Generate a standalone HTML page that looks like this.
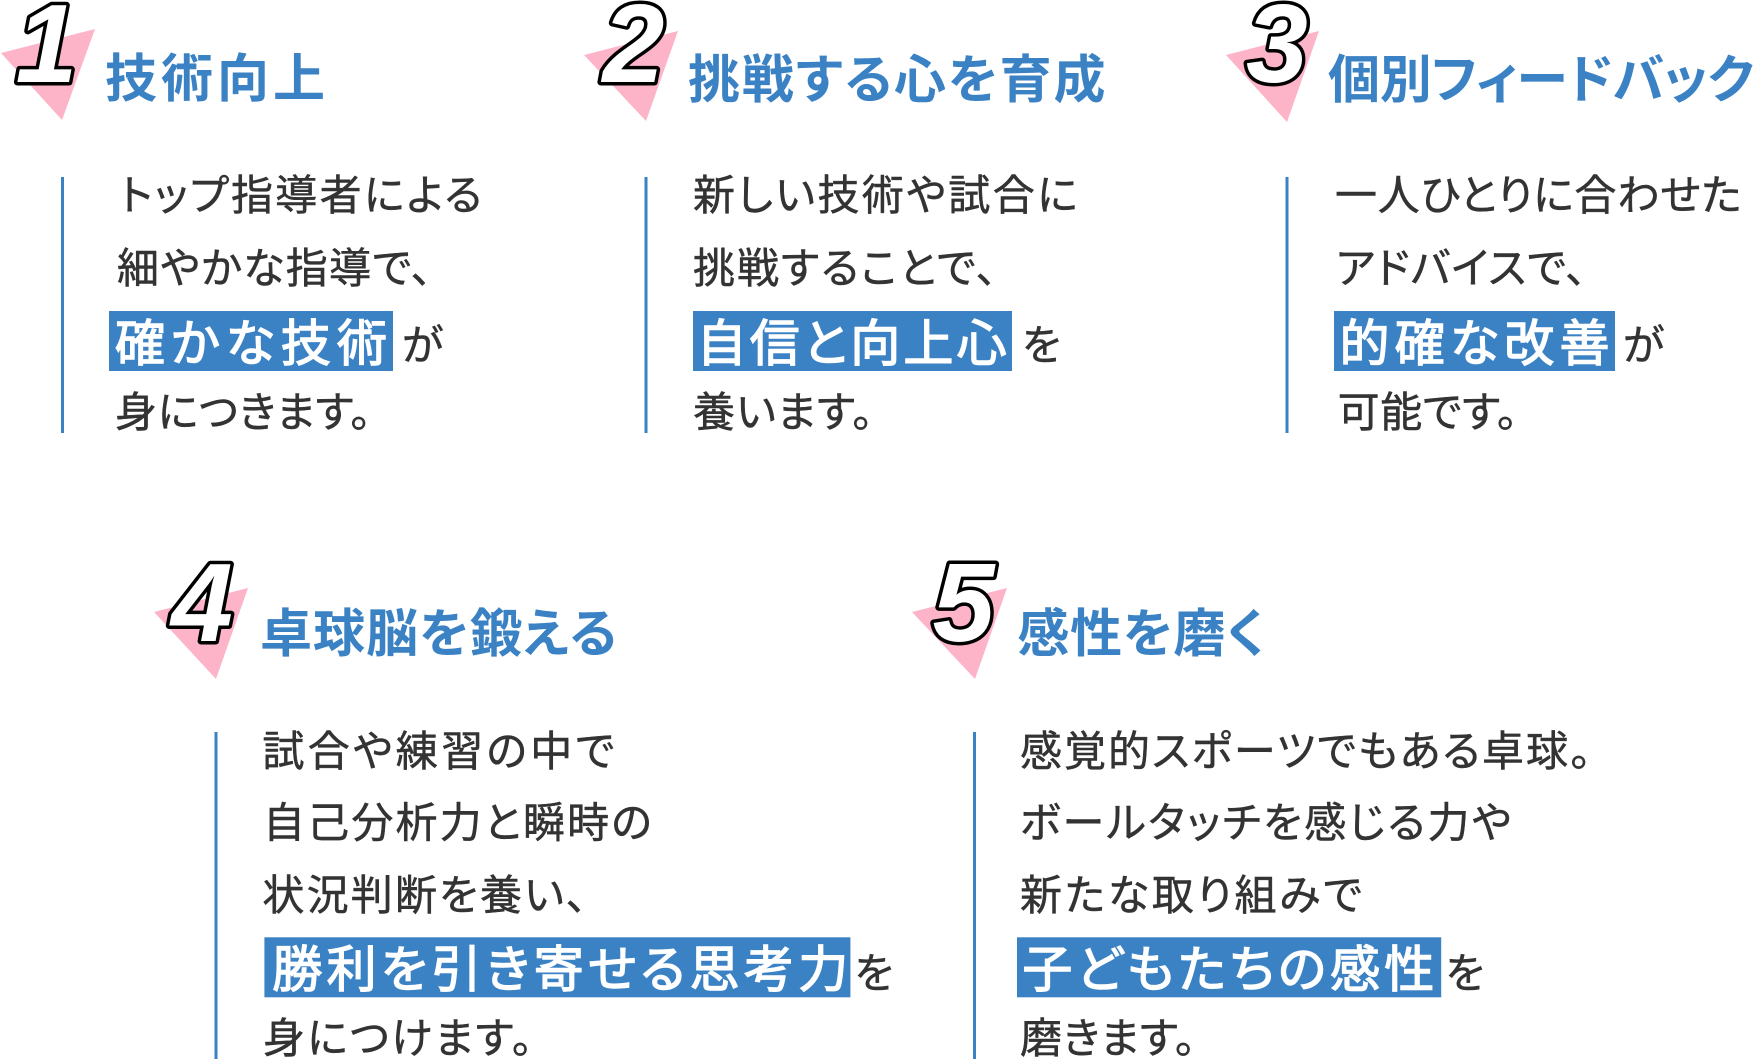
<!DOCTYPE html>
<html>
<head>
<meta charset="utf-8">
<style>
html,body{margin:0;padding:0;background:#fff;}
svg{display:block;}
text{font-family:"Liberation Sans","Noto Sans CJK JP",sans-serif;font-feature-settings:"palt";}
.t{fill:#3b82c5;font-size:52px;font-weight:700;}
.b{fill:#333333;font-size:42px;font-weight:400;stroke:#333333;stroke-width:0.5px;}
.h{fill:#ffffff;font-size:50px;font-weight:400;stroke:#ffffff;stroke-width:1.4px;}
.n{font-family:"Liberation Sans",sans-serif;font-size:111px;font-weight:700;font-style:italic;fill:#ffffff;stroke:#000000;stroke-width:7px;stroke-linejoin:round;paint-order:stroke;}
</style>
</head>
<body>
<svg width="1754" height="1060" viewBox="0 0 1754 1060" xmlns="http://www.w3.org/2000/svg">
<!-- triangles -->
<g fill="#fdb4c9">
<polygon points="1,53 95,29 62,120"/>
<polygon points="584,55 678,31 646,121"/>
<polygon points="1226,55 1319,31 1287,122"/>
<polygon points="154,612 248,588 216,679"/>
<polygon points="912,612 1007,588 975,679"/>
</g>
<!-- digits -->
<text class="n" x="46.5" y="82" text-anchor="middle">1</text>
<text class="n" x="633.5" y="82" text-anchor="middle">2</text>
<text class="n" x="1277" y="82" text-anchor="middle">3</text>
<text class="n" x="202" y="641" text-anchor="middle">4</text>
<text class="n" x="963.5" y="641" text-anchor="middle">5</text>

<!-- titles -->
<text class="t" x="105" y="97" textLength="220" lengthAdjust="spacing">技術向上</text>
<text class="t" x="688" y="98" textLength="417.5" lengthAdjust="spacing">挑戦する心を育成</text>
<text class="t" x="1328" y="98" textLength="426" lengthAdjust="spacing">個別フィードバック</text>
<text class="t" x="260" y="652" textLength="357" lengthAdjust="spacing">卓球脳を鍛える</text>
<text class="t" x="1017.4" y="652" textLength="247.6" lengthAdjust="spacing">感性を磨く</text>

<!-- vertical lines -->
<g fill="#3b82c5">
<rect x="61" y="177" width="3" height="256"/>
<rect x="644.5" y="177" width="3" height="256"/>
<rect x="1285.5" y="177" width="3" height="256"/>
<rect x="214.5" y="732" width="3" height="327"/>
<rect x="973" y="732" width="3" height="327"/>
</g>

<!-- highlight boxes -->
<g fill="#3b82c5">
<rect x="109" y="311" width="284" height="60"/>
<rect x="693" y="311" width="319" height="60"/>
<rect x="1334" y="311" width="281" height="60"/>
<rect x="264.4" y="937.3" width="586" height="60"/>
<rect x="1017" y="937.3" width="424.2" height="60"/>
</g>

<!-- section 1 -->
<text class="b" x="120" y="210" textLength="362" lengthAdjust="spacing">トップ指導者による</text>
<text class="b" x="117" y="283" textLength="315" lengthAdjust="spacing">細やかな指導で、</text>
<text class="h" x="115" y="361" textLength="272" lengthAdjust="spacing">確かな技術</text>
<text class="b" x="402" y="360">が</text>
<text class="b" x="115" y="427" textLength="256" lengthAdjust="spacing">身につきます。</text>

<!-- section 2 -->
<text class="b" x="693" y="210" textLength="384.6" lengthAdjust="spacing">新しい技術や試合に</text>
<text class="b" x="693" y="283" textLength="304" lengthAdjust="spacing">挑戦することで、</text>
<text class="h" x="696.6" y="361" textLength="310" lengthAdjust="spacing">自信と向上心</text>
<text class="b" x="1022" y="360">を</text>
<text class="b" x="693" y="427" textLength="180" lengthAdjust="spacing">養います。</text>

<!-- section 3 -->
<text class="b" x="1335" y="210" textLength="406.5" lengthAdjust="spacing">一人ひとりに合わせた</text>
<text class="b" x="1336" y="283" textLength="250.5" lengthAdjust="spacing">アドバイスで、</text>
<text class="h" x="1339.5" y="361" textLength="270" lengthAdjust="spacing">的確な改善</text>
<text class="b" x="1623" y="360">が</text>
<text class="b" x="1337.6" y="427" textLength="180" lengthAdjust="spacing">可能です。</text>

<!-- section 4 -->
<text class="b" x="262.4" y="766" textLength="352" lengthAdjust="spacing">試合や練習の中で</text>
<text class="b" x="263" y="837.5" textLength="388.8" lengthAdjust="spacing">自己分析力と瞬時の</text>
<text class="b" x="262.4" y="910" textLength="324.6" lengthAdjust="spacing">状況判断を養い、</text>
<text class="h" x="272.3" y="987" textLength="576" lengthAdjust="spacing">勝利を引き寄せる思考力</text>
<text class="b" x="854.5" y="988">を</text>
<text class="b" x="263" y="1053" textLength="269.5" lengthAdjust="spacing">身につけます。</text>

<!-- section 5 -->
<text class="b" x="1020" y="766" textLength="571" lengthAdjust="spacing">感覚的スポーツでもある卓球。</text>
<text class="b" x="1020" y="837.5" textLength="491.3" lengthAdjust="spacing">ボールタッチを感じる力や</text>
<text class="b" x="1020" y="910" textLength="342" lengthAdjust="spacing">新たな取り組みで</text>
<text class="h" x="1022.4" y="987" textLength="411.8" lengthAdjust="spacing">子どもたちの感性</text>
<text class="b" x="1445.5" y="988">を</text>
<text class="b" x="1020" y="1053" textLength="175.5" lengthAdjust="spacing">磨きます。</text>
</svg>
</body>
</html>
